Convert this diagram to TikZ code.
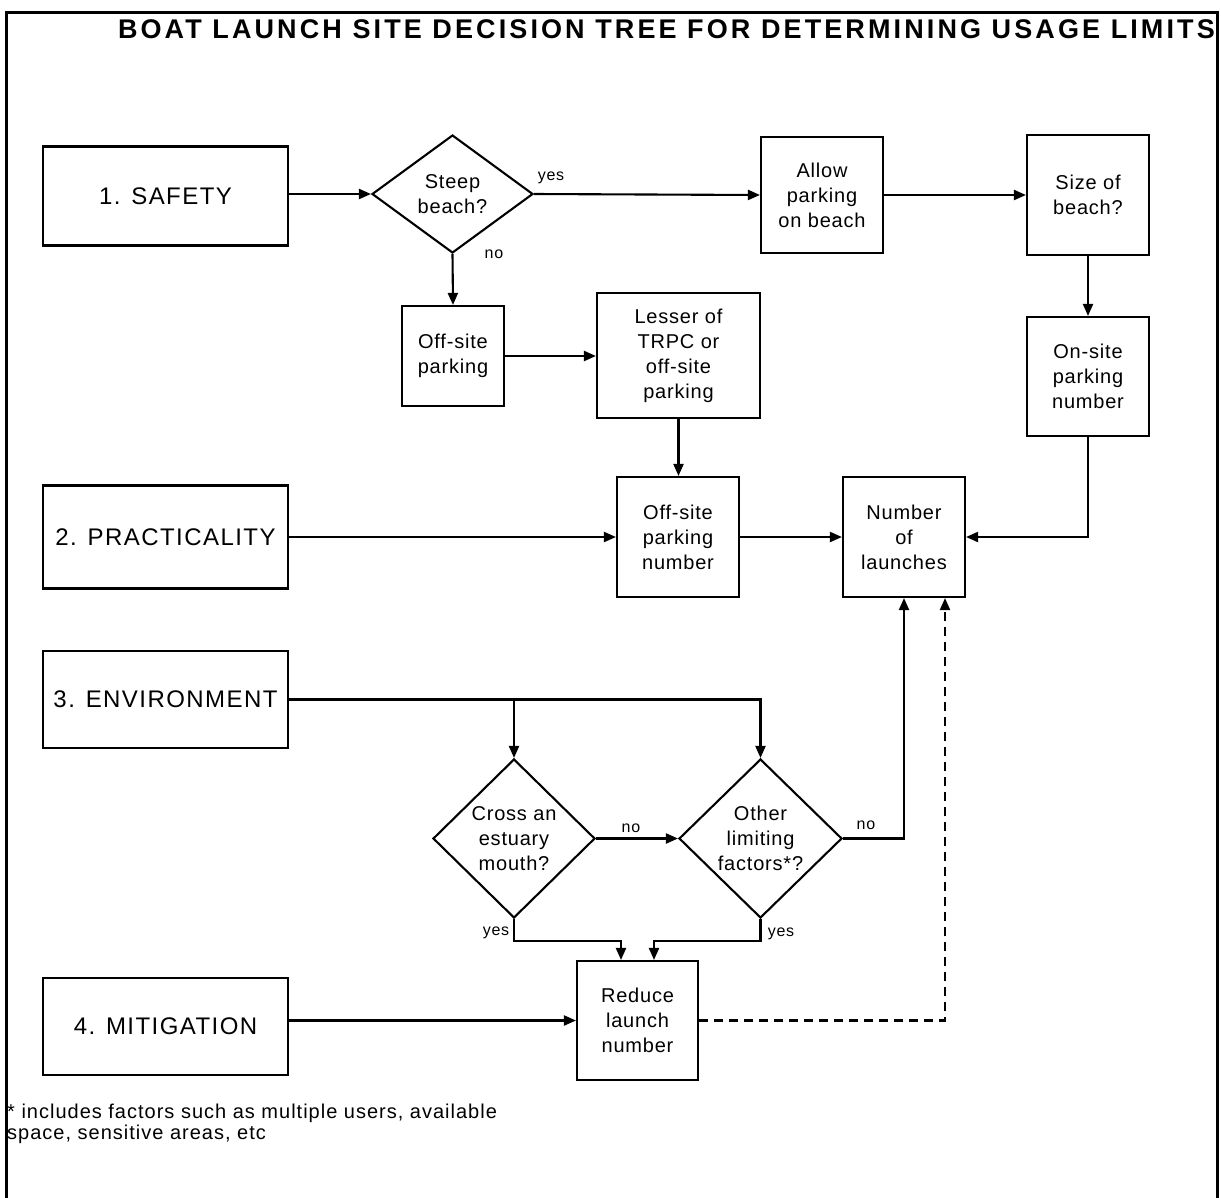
\documentclass[tikz,border=0pt]{standalone}
\usepackage{fontspec}
\setmainfont{Liberation Sans}
\newfontfamily\boxfont[LetterSpace=4]{Liberation Sans}
\newfontfamily\catfont[LetterSpace=6]{Liberation Sans}
\newfontfamily\titlefont[LetterSpace=11.5]{Liberation Sans}
\newfontfamily\notefont[LetterSpace=5]{Liberation Sans}
\newfontfamily\labfont[LetterSpace=5]{Liberation Sans}
\usetikzlibrary{arrows.meta,shapes.geometric}
\tikzset{
  box/.style={draw, line width=2.1pt, rectangle, inner sep=0pt, align=center,
    font=\boxfont\fontsize{20}{25}\selectfont},
  catbox/.style={box, font=\catfont\fontsize{24}{28}\selectfont},
  dec/.style={draw, line width=2.1pt, diamond, inner sep=0pt},
  dectext/.style={align=center, inner sep=0pt, font=\boxfont\fontsize{20}{25}\selectfont},
  conn/.style={line width=2.1pt, -{Triangle[length=12pt,width=10pt]}},
  lab/.style={inner sep=0pt, font=\labfont\fontsize{16}{18}\selectfont},
}
\begin{document}
\begin{tikzpicture}[x=1pt,y=-1pt]
\useasboundingbox (0,0) rectangle (1221,1197);
% frame
\draw[line width=3pt] (6,1205) -- (6,12) -- (1217,12) -- (1217,1205);
% title
\node[anchor=base east, inner sep=0pt, font=\titlefont\bfseries\fontsize{27}{30}\selectfont] (title) at (1215,38) {BOAT LAUNCH SITE DECISION TREE FOR DETERMINING USAGE LIMITS};

% category boxes
\node[catbox, minimum width=245pt, minimum height=99pt] (safety) at (165.5,196) {1. SAFETY};
\node[catbox, minimum width=245pt, minimum height=103pt] (prac) at (165.5,537) {2. PRACTICALITY};
\node[catbox, minimum width=245pt, minimum height=97pt] (env) at (165.5,699.5) {3. ENVIRONMENT};
\node[catbox, minimum width=245pt, minimum height=97pt] (mit) at (165.5,1026.5) {4. MITIGATION};

% decisions
\node[dec, minimum width=161pt, minimum height=118pt,
  label={[dectext]center:Steep\\beach?}] (steep) at (452.5,194) {};
\node[dec, minimum width=162pt, minimum height=159pt,
  label={[dectext]center:Cross an\\estuary\\mouth?}] (cross) at (514,838.5) {};
\node[dec, minimum width=163pt, minimum height=159pt,
  label={[dectext]center:Other\\limiting\\factors*?}] (other) at (760.5,838.5) {};

% process boxes
\node[box, minimum width=122pt, minimum height=116pt] (allow) at (822,195) {Allow\\parking\\on beach};
\node[box, minimum width=122pt, minimum height=120pt] (size) at (1088,195) {Size of\\beach?};
\node[box, minimum width=122pt, minimum height=119pt] (onsite) at (1088,376.5) {On-site\\parking\\number};
\node[box, minimum width=102pt, minimum height=100pt] (offpark) at (453,356) {Off-site\\parking};
\node[box, minimum width=163pt, minimum height=125pt] (lesser) at (678.5,355.5) {Lesser of\\TRPC or\\off-site\\parking};
\node[box, minimum width=122pt, minimum height=120pt] (offnum) at (678,537) {Off-site\\parking\\number};
\node[box, minimum width=122pt, minimum height=120pt] (num) at (904,537) {Number\\of\\launches};
\node[box, minimum width=121pt, minimum height=119pt] (red) at (637.5,1020.5) {Reduce\\launch\\number};

% connectors
\draw[conn] (steep.west -| safety.east) -- (steep.west);
\draw[conn] (steep.east) -- (allow.west);
\draw[conn] (allow.east) -- (size.west);
\draw[conn] (size.south) -- (onsite.north);
\draw[conn] (steep.south) -- (offpark.north);
\draw[conn] (offpark.east) -- (offpark.east -| lesser.west);
\draw[conn] (lesser.south) -- (lesser.south |- offnum.north);
\draw[conn] (prac.east) -- (offnum.west);
\draw[conn] (offnum.east) -- (num.west);
\draw[conn] (onsite.south) |- (num.east);
\draw[conn] (env.east) -| (other.north);
\draw[conn] (env.east -| cross.north) -- (cross.north);
\draw[conn] (cross.east) -- (other.west);
\draw[conn] (other.east) -| (num.south);
\draw[conn] (cross.south) -- ++(0,22) -| ([xshift=-16.5pt]red.north);
\draw[conn] (other.south) -- ++(0,22) -| ([xshift=16.5pt]red.north);
\draw[conn] (red.west -| mit.east) -- (red.west);
\draw[conn, dash pattern=on 9pt off 6pt] (red.east) -| ([xshift=41pt]num.south);

% labels
\node[lab] (lyes1) at (551,178) {yes};
\node[lab] (lno1) at (494,254) {no};
\node[lab] (lno2) at (631,828) {no};
\node[lab] (lno3) at (866,825) {no};
\node[lab] (lyes2) at (496,933) {yes};
\node[lab] (lyes3) at (781,934) {yes};

% footnote
\node[anchor=north west, align=left, inner sep=0pt, font=\notefont\fontsize{20}{21}\selectfont] (note) at (7,1104) {* includes factors such as multiple users, available\\space, sensitive areas, etc};
\end{tikzpicture}
\end{document}
